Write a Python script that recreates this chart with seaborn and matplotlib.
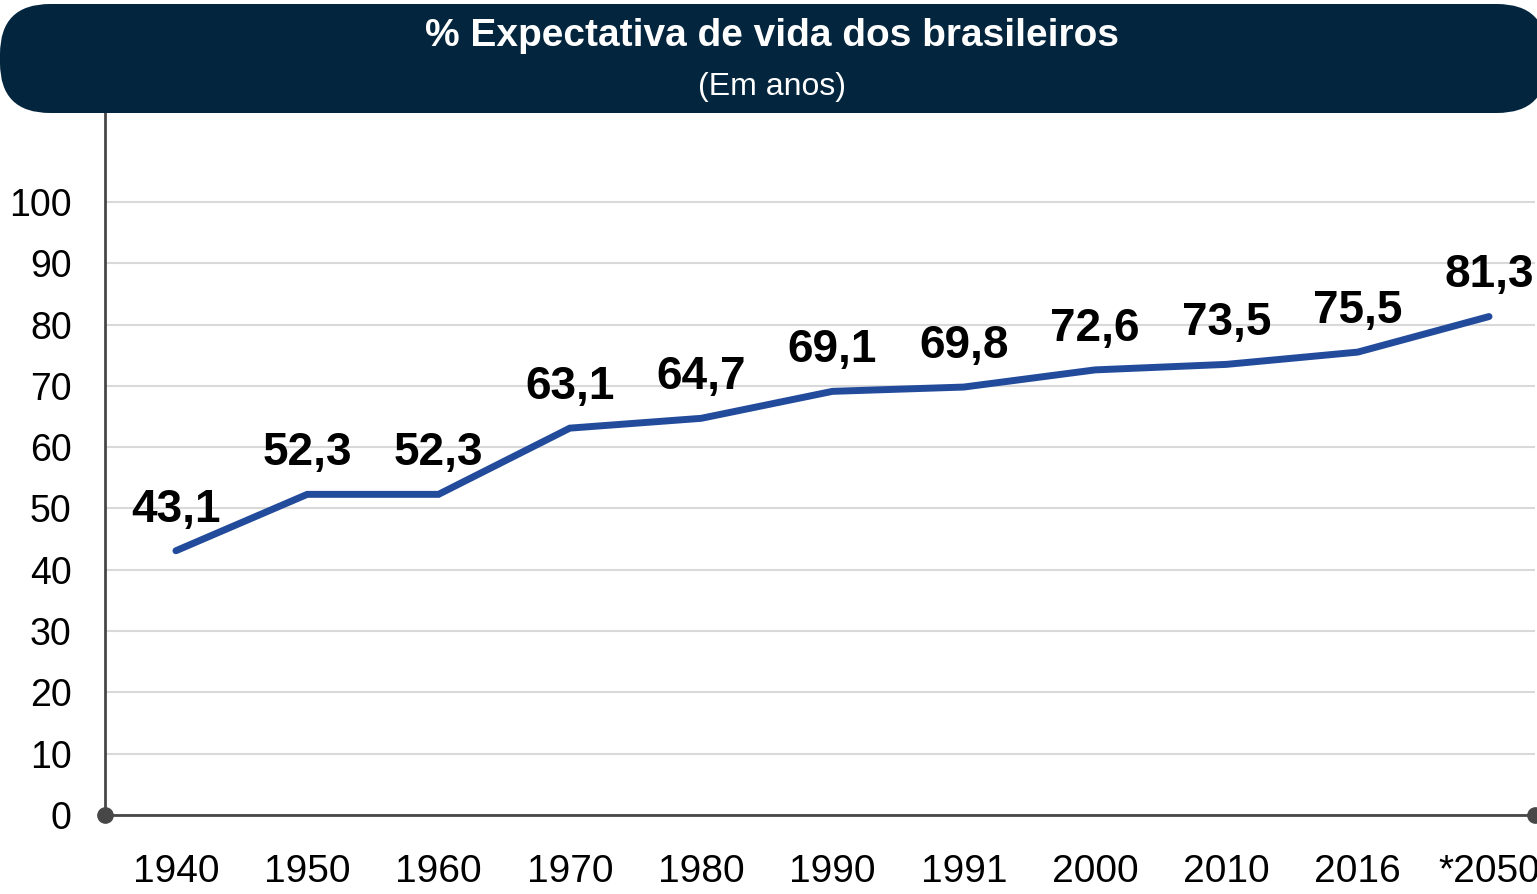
import matplotlib
matplotlib.use("Agg")
import matplotlib.pyplot as plt
from matplotlib.patches import FancyBboxPatch
import seaborn as sns
import pandas as pd

years = ["1940", "1950", "1960", "1970", "1980", "1990", "1991", "2000", "2010", "2016", "*2050"]
life_expectancy = [43.1, 52.3, 52.3, 63.1, 64.7, 69.1, 69.8, 72.6, 73.5, 75.5, 81.3]
y_ticks = [0, 10, 20, 30, 40, 50, 60, 70, 80, 90, 100]
title = "% Expectativa de vida dos brasileiros"
subtitle = "(Em anos)"

sns.set_theme(style="white")
FONT = ["Liberation Sans Narrow", "Arial Narrow", "Liberation Sans", "DejaVu Sans"]
plt.rcParams["font.family"] = FONT

df = pd.DataFrame({"ano": years, "valor": life_expectancy})
df["pos"] = range(len(df))

fig = plt.figure(figsize=(15.37, 8.94), dpi=100)
ax = fig.add_axes([105 / 1537, 1 - 815 / 894, (1535 - 105) / 1537, (815 - 113) / 894])

sns.lineplot(data=df, x="pos", y="valor", ax=ax, color="#234b9b", linewidth=5,
             sort=False, solid_capstyle="round", solid_joinstyle="miter")

for i, v in zip(df["pos"], df["valor"]):
    ax.annotate(f"{v:.1f}".replace(".", ","), xy=(i, v), xytext=(0, 21),
                textcoords="offset points", ha="center", va="baseline",
                fontsize=33, fontweight="bold", color="black", family=FONT)

ax.set_xlim(-0.54, 10.35)
ax.set_ylim(0, 114.5)
ax.set_yticks(y_ticks)
ax.set_yticklabels([str(t) for t in y_ticks])
ax.set_xticks(df["pos"])
ax.set_xticklabels(years)
ax.tick_params(axis="y", length=0, pad=24, labelsize=27, labelcolor="black")
ax.tick_params(axis="x", length=0, pad=28, labelsize=28, labelcolor="black")
ax.set_xlabel("")
ax.set_ylabel("")
ax.yaxis.grid(True, color="#d9d9d9", linewidth=1.5)
ax.xaxis.grid(False)
for s in ["top", "right"]:
    ax.spines[s].set_visible(False)
for s in ["left", "bottom"]:
    ax.spines[s].set_color("#474747")
    ax.spines[s].set_linewidth(2.0)
ax.spines["bottom"].set_zorder(5)

# axis end dots
ax.plot([0, 1], [0, 0], "o", transform=ax.transAxes, color="#474747",
        markersize=11, clip_on=False, zorder=6)

# title banner
box = FancyBboxPatch((0.0, (894 - 113) / 100), 15.47, (113 - 4) / 100,
                     boxstyle="round,pad=0,rounding_size=0.5",
                     transform=fig.dpi_scale_trans, facecolor="#03263e",
                     edgecolor="none", zorder=10)
fig.patches.append(box)
fig.text(772 / 1537, 1 - 36 / 894, title, ha="center", va="center", color="white",
         fontsize=28, fontweight="bold", zorder=11, family=FONT)
fig.text(772 / 1537, 1 - 87 / 894, subtitle, ha="center", va="center", color="white",
         fontsize=23, zorder=11, family=FONT)

fig.savefig("out.png", dpi=100)
